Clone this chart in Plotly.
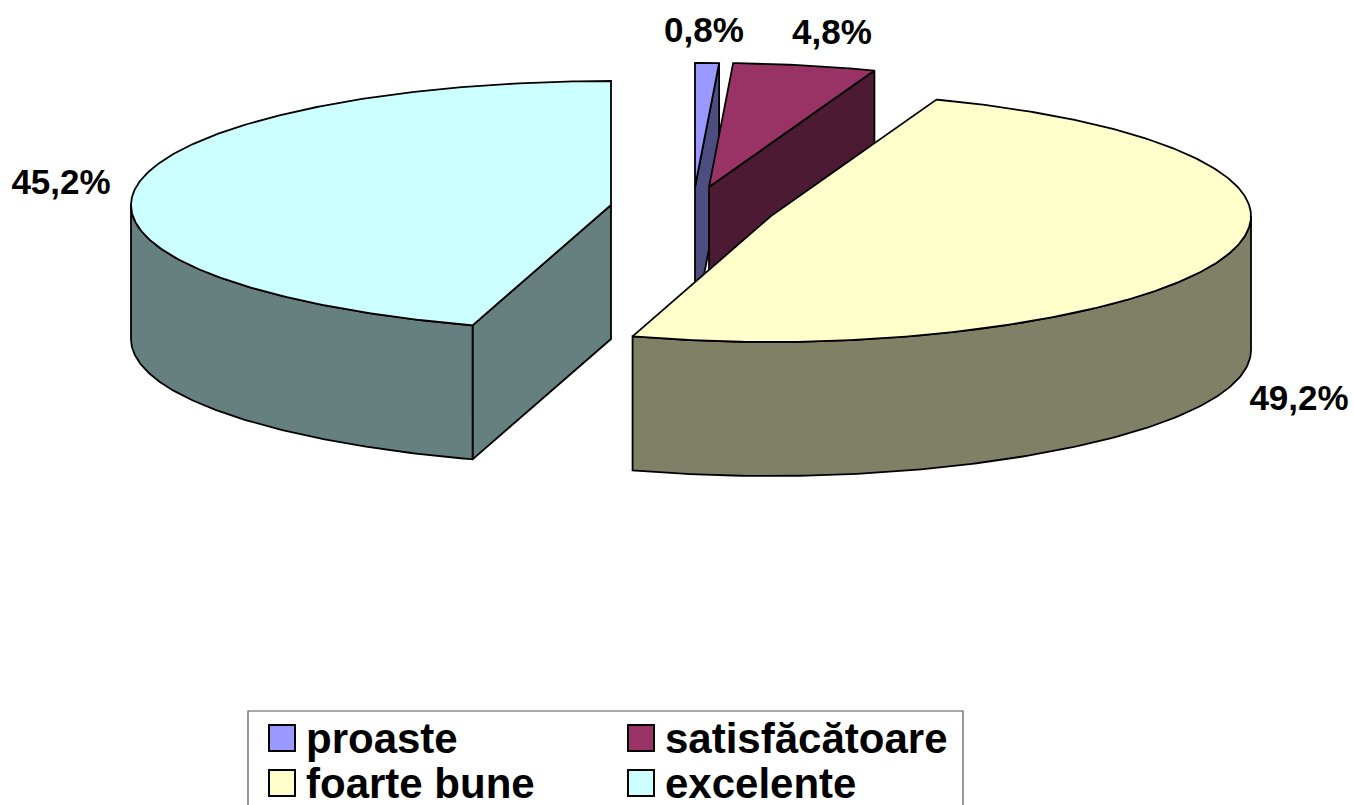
import numpy as np
import plotly.graph_objects as go

categories = ["proaste", "satisfăcătoare", "foarte bune", "excelente"]
values = [0.8, 4.8, 49.2, 45.2]
value_labels = ["0,8%", "4,8%", "49,2%", "45,2%"]

top_colors = ["#9999FF", "#993366", "#FFFFCC", "#CCFFFF"]
side_colors = ["#4D4D80", "#4D1A33", "#808066", "#668080"]
centers = [(695, 187), (709, 187), (771, 216), (611, 205)]
label_pos = [(704, 33), (832, 35), (1299, 401), (61, 185)]
swatch_pos = [(282, 738), (641, 738), (282, 783), (641, 783)]
legend_text_y = [742, 742, 787, 787]

RX, RY_BACK, RY_FRONT, DEPTH = 480, 124, 126, 134
W, H = 1354, 805


def rim(c, deg):
    a = np.radians(deg)
    cos_a = np.cos(a)
    front = np.clip(-cos_a, 0, 1)
    x = c[0] + RX * np.sin(a) * (1 - 0.035 * front ** 4)
    y = c[1] - np.where(cos_a >= 0, RY_BACK, RY_FRONT) * cos_a
    return x, y


def poly(xs, ys, fill):
    return go.Scatter(x=list(xs), y=list(ys), mode="lines", fill="toself", fillcolor=fill,
                      line=dict(color="black", width=1.8), hoverinfo="skip", showlegend=False)


fig = go.Figure()
edges = np.concatenate([[0], np.cumsum(values)]) / sum(values) * 360

for i, cat in enumerate(categories):
    c = centers[i]
    start, end = edges[i], edges[i + 1]
    # flat cut face turned towards the viewer
    for ang, visible in ((end, end < 180), (start, start > 180)):
        if visible:
            px, py = rim(c, ang)
            fig.add_trace(poly([c[0], px, px, c[0], c[0]],
                               [c[1], py, py + DEPTH, c[1] + DEPTH, c[1]], side_colors[i]))
    # outer rounded wall
    lo, hi = max(start, 90), min(end, 270)
    if hi > lo:
        t = np.linspace(lo, hi, 120)
        px, py = rim(c, t)
        fig.add_trace(poly(np.r_[px, px[::-1], px[0]],
                           np.r_[py, py[::-1] + DEPTH, py[0]], side_colors[i]))
    # top face
    t = np.linspace(start, end, max(int(end - start) * 2, 4))
    px, py = rim(c, t)
    fig.add_trace(poly(np.r_[c[0], px, c[0]], np.r_[c[1], py, c[1]], top_colors[i]))

fig.add_trace(go.Scatter(x=[p[0] for p in label_pos], y=[p[1] for p in label_pos],
                         mode="text", text=value_labels, textposition="middle center",
                         textfont=dict(family="Liberation Sans", size=35, color="black"),
                         texttemplate="<b>%{text}</b>", hoverinfo="skip", showlegend=False))

# legend
fig.add_shape(type="rect", x0=248, x1=963, y0=711, y1=840, xref="x", yref="y",
              line=dict(color="#555555", width=1.2), fillcolor="white", layer="below")
fig.add_trace(go.Scatter(x=[p[0] for p in swatch_pos], y=[p[1] for p in swatch_pos],
                         mode="markers",
                         marker=dict(symbol="square", size=26, color=top_colors,
                                     line=dict(color="black", width=2)),
                         hoverinfo="skip", showlegend=False))
fig.add_trace(go.Scatter(x=[p[0] + 24 for p in swatch_pos], y=legend_text_y,
                         mode="text", text=categories, textposition="middle right",
                         textfont=dict(family="Liberation Sans", size=42, color="black"),
                         texttemplate="<b>%{text}</b>", hoverinfo="skip", showlegend=False))

fig.update_layout(width=W, height=H, margin=dict(l=0, r=0, t=0, b=0),
                  paper_bgcolor="white", plot_bgcolor="white", showlegend=False,
                  xaxis=dict(range=[0, W], visible=False, fixedrange=True),
                  yaxis=dict(range=[H, 0], visible=False, fixedrange=True))
fig.write_html("out.html", config=dict(displayModeBar=False),
               post_script="document.body.style.margin='0';document.body.style.overflow='hidden';")
